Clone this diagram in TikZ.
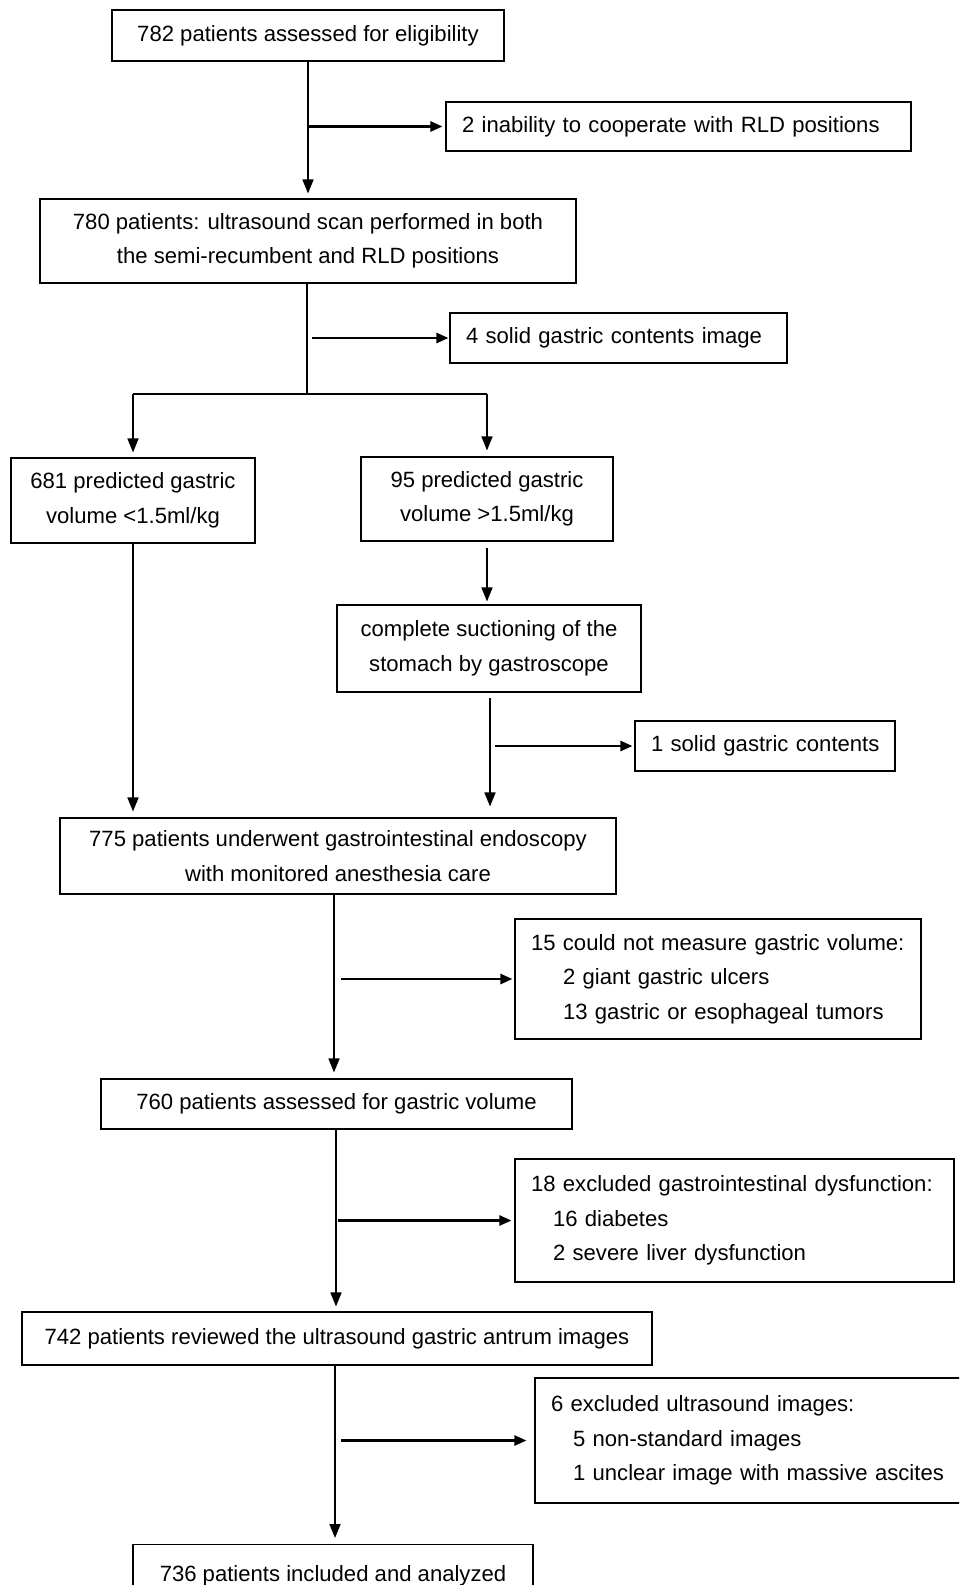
\documentclass[tikz,border=0pt]{standalone}
\usepackage{fontspec}
\setmainfont{Liberation Sans}
\usetikzlibrary{arrows.meta}
\begin{document}
\begin{tikzpicture}[x=1pt,y=-1pt,
  box/.style={draw, line width=1.1pt, inner sep=0pt, align=center,
    font=\fontsize{22.1}{34.5}\selectfont},
  exbox/.style={box, align=left, inner xsep=16pt},
  arr/.style={line width=1.6pt, -{Triangle[length=14pt,width=11pt]}},
  sarr/.style={line width=2.5pt, -{Triangle[length=12pt,width=10pt]}},
  ln/.style={line width=1.3pt}]
\useasboundingbox (0,0) rectangle (959,1585);
\clip (0,0) rectangle (959,1585);

\node[box, minimum width=392pt, minimum height=51pt] (b1) at (308,35.5)
  {782 patients assessed for eligibility};
\node[exbox, minimum width=465pt, text width=433pt, minimum height=49pt] (e1) at (678.5,126.5)
  {\mbox{2 inability to cooperate with RLD positions}};
\node[box, minimum width=536pt, minimum height=84pt] (b2) at (308,241)
  {780 patients: ultrasound scan performed in both\\the semi-recumbent and RLD positions};
\node[exbox, minimum width=337pt, text width=305pt, minimum height=50pt] (e2) at (618.5,338)
  {\mbox{4 solid gastric contents image}};
\node[box, minimum width=244pt, minimum height=85pt] (b3) at (133,500.5)
  {681 predicted gastric\\volume <1.5ml/kg};
\node[box, minimum width=252pt, minimum height=84pt] (b4) at (487,499)
  {95 predicted gastric\\volume >1.5ml/kg};
\node[box, minimum width=304pt, minimum height=87pt] (b5) at (489,648.5)
  {complete suctioning of the\\stomach by gastroscope};
\node[exbox, minimum width=260pt, text width=228pt, minimum height=50pt] (e3) at (765,746)
  {\mbox{1 solid gastric contents}};
\node[box, minimum width=556pt, minimum height=76pt] (b6) at (338,856)
  {775 patients underwent gastrointestinal endoscopy\\with monitored anesthesia care};
\node[exbox, minimum width=406pt, text width=374pt, minimum height=120pt] (e4) at (718,979)
  {\mbox{15 could not measure gastric volume:}\\\hspace*{32pt}2 giant gastric ulcers\\\hspace*{32pt}\mbox{13 gastric or esophageal tumors}};
\node[box, minimum width=471pt, minimum height=50pt] (b7) at (336.5,1104)
  {760 patients assessed for gastric volume};
\node[exbox, minimum width=439pt, text width=407pt, minimum height=123pt] (e5) at (734.5,1220.5)
  {\mbox{18 excluded gastrointestinal dysfunction:}\\\hspace*{22pt}16 diabetes\\\hspace*{22pt}2 severe liver dysfunction};
\node[box, minimum width=630pt, minimum height=53pt] (b8) at (337,1338.5)
  {742 patients reviewed the ultrasound gastric antrum images};
\node[exbox, minimum width=450pt, text width=418pt, minimum height=125pt] (e6) at (760,1440.5)
  {6 excluded ultrasound images:\\\hspace*{22pt}5 non-standard images\\\hspace*{22pt}\mbox{1 unclear image with massive ascites}};
\node[box, minimum width=400pt, minimum height=62pt, anchor=north] (b9) at (333,1544)
  {\raisebox{-8pt}{736 patients included and analyzed}};

% connectors
\draw[arr, shorten >=5pt] (b1.south) -- (b1.south |- b2.north);
\draw[sarr, shorten >=3pt] (b1.south |- e1.west) -- (e1.west);

\coordinate (split) at (307,394);
\draw[ln] (b2.south -| split) -- (split);
\draw[sarr, shorten <=5pt, shorten >=1pt] (split |- e2.west) -- (e2.west);
\draw[ln] (b3.north |- split) -- (b4.north |- split);
\draw[arr, shorten >=5pt] (b3.north |- split) -- (b3.north);
\draw[arr, shorten >=6pt] (b4.north |- split) -- (b4.north);

\draw[arr, shorten >=6pt] (b3.south) -- (b3.south |- b6.north);
\draw[arr, shorten <=6pt, shorten >=3pt] (b4.south) -- (b4.south |- b5.north);
\coordinate (c5) at (490,0);
\draw[arr, shorten <=5pt, shorten >=11pt] (b5.south -| c5) -- (b6.north -| c5);
\draw[sarr, shorten <=5pt, shorten >=2pt] (c5 |- e3.west) -- (e3.west);

\coordinate (c6) at (334,0);
\draw[arr, shorten >=6pt] (b6.south -| c6) -- (b7.north -| c6);
\draw[sarr, shorten <=7pt, shorten >=2pt] (c6 |- e4.west) -- (e4.west);

\coordinate (c7) at (336,0);
\draw[arr, shorten >=5pt] (b7.south -| c7) -- (b8.north -| c7);
\draw[sarr, shorten <=2pt, shorten >=3pt] (c7 |- e5.west) -- (e5.west);

\coordinate (c8) at (335,0);
\draw[arr, shorten >=6pt] (b8.south -| c8) -- (b9.north -| c8);
\draw[sarr, shorten <=6pt, shorten >=8pt] (c8 |- e6.west) -- (e6.west);
\end{tikzpicture}
\end{document}
